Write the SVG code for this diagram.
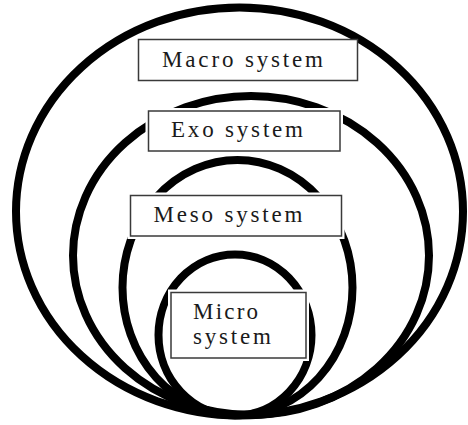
<svg xmlns="http://www.w3.org/2000/svg" width="468" height="425" viewBox="0 0 468 425">
  <style>
    .ring { fill: none; stroke: #000; stroke-width: 8; }
    .mask { fill: #fff; stroke: #fff; stroke-width: 6; }
    .box { fill: #fff; stroke: #3a3a3a; stroke-width: 1.5; }
    .lbl { font-family: "Liberation Serif", "Times New Roman", serif; font-size: 23px; fill: #1a1a1a; }
  </style>
  <rect width="468" height="425" fill="#fff"/>
  <g id="rings">
    <ellipse id="ring-macro" class="ring" cx="239.5" cy="211.5" rx="223.5" ry="204"/>
    <ellipse id="ring-exo" class="ring" cx="251" cy="255.5" rx="178" ry="159.5"/>
    <ellipse id="ring-meso" class="ring" cx="237.5" cy="287.5" rx="115" ry="127.5"/>
    <ellipse id="ring-micro" class="ring" cx="235" cy="335" rx="76.5" ry="80.5"/>
  </g>
  <g id="macro">
    <rect class="box" x="138.5" y="39.5" width="219" height="41"/>
    <text class="lbl" x="162" y="67" textLength="161" lengthAdjust="spacing">Macro system</text>
  </g>
  <g id="exo">
    <rect class="mask" x="148.5" y="111" width="191.5" height="40"/>
    <rect class="box" x="148.5" y="111" width="191.5" height="40"/>
    <text class="lbl" x="171" y="137" textLength="132" lengthAdjust="spacing">Exo system</text>
  </g>
  <g id="meso">
    <rect class="mask" x="130.5" y="195.5" width="211" height="40.5"/>
    <rect class="box" x="130.5" y="195.5" width="211" height="40.5"/>
    <text class="lbl" x="153.5" y="221.5" textLength="149" lengthAdjust="spacing">Meso system</text>
  </g>
  <g id="micro">
    <rect class="mask" x="171" y="292.5" width="135" height="65.5"/>
    <rect class="box" x="171" y="292.5" width="135" height="65.5"/>
    <text class="lbl" x="193" y="319" textLength="65" lengthAdjust="spacing">Micro</text>
    <text class="lbl" x="193" y="344" textLength="78" lengthAdjust="spacing">system</text>
  </g>
</svg>
